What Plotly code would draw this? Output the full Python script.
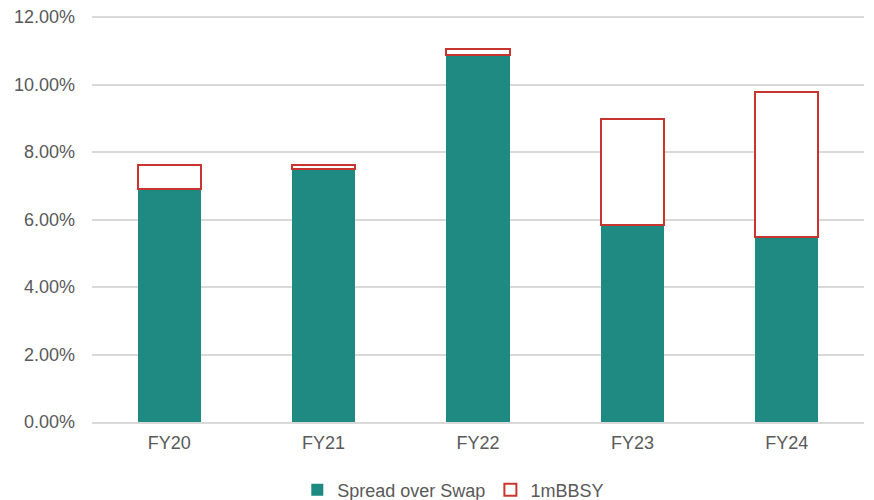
import plotly.graph_objects as go

categories = ["FY20", "FY21", "FY22", "FY23", "FY24"]
spread_over_swap = [0.0690, 0.0750, 0.1087, 0.0584, 0.0549]
bbsy_1m = [0.0071, 0.0011, 0.0017, 0.0314, 0.0429]
y_ticks = [0.0, 0.02, 0.04, 0.06, 0.08, 0.10, 0.12]

teal = "#1E8A82"
red = "#C8352E"
grey = "#595959"

fig = go.Figure()
fig.add_trace(go.Bar(
    x=categories, y=spread_over_swap, name="Spread over Swap",
    marker=dict(color=teal, line=dict(width=0)),
))
fig.add_trace(go.Bar(
    x=categories, y=bbsy_1m, name="1mBBSY",
    marker=dict(color="white", line=dict(color=red, width=2)),
))

fig.update_layout(
    barmode="stack",
    bargap=0.59,
    width=866, height=492,
    margin=dict(l=84, r=10, t=8, b=78, autoexpand=False),
    paper_bgcolor="white", plot_bgcolor="white",
    font=dict(family="Liberation Sans, Arial, sans-serif", size=18, color=grey),
    legend=dict(orientation="h", x=0.468, xanchor="center",
                yref="container", y=0.02, yanchor="middle",
                font=dict(size=18, color=grey), traceorder="normal", itemwidth=30),
    showlegend=True,
)
fig.update_yaxes(
    range=[0, 0.1203], tickmode="array", tickvals=y_ticks, tickformat=".2%",
    showgrid=True, gridcolor="#D9D9D9", gridwidth=1.5,
    zeroline=False, showline=False, ticks="", ticklabelstandoff=16,
    ticklabeloverflow="allow",
    tickfont=dict(size=18, color=grey),
)
fig.update_xaxes(
    showline=True, linecolor="#D9D9D9", linewidth=1.5, ticks="", showgrid=False,
    tickfont=dict(size=18, color=grey), ticklabelstandoff=4,
)

fig.write_html("out.html")
